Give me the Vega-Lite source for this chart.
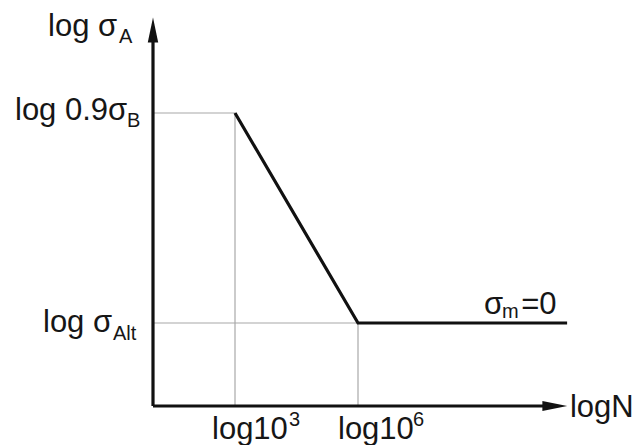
{
  "$schema": "https://vega.github.io/schema/vega-lite/v6.json",
  "width": 635,
  "height": 445,
  "autosize": {"type": "fit", "contains": "padding"},
  "padding": 0,
  "background": "white",
  "config": {"view": {"stroke": null}},
  "datasets": {
    "guides": [
      {"x": 1, "y": 2.93, "x2": 3, "y2": 2.93},
      {"x": 3, "y": 0, "x2": 3, "y2": 2.93},
      {"x": 1, "y": 0.83, "x2": 6, "y2": 0.83},
      {"x": 6, "y": 0, "x2": 6, "y2": 0.83}
    ],
    "axes": [
      {"x": 1, "y": 0, "x2": 1, "y2": 3.66},
      {"x": 1, "y": 0, "x2": 10.6, "y2": 0}
    ],
    "curve": [
      {"n": 3, "s": 2.93},
      {"n": 6, "s": 0.83},
      {"n": 11.1, "s": 0.83}
    ],
    "arrows": [
      {"x": 1, "y": 3.76, "dir": "up"},
      {"x": 10.8, "y": 0, "dir": "right"}
    ],
    "labels": [
      {"x": -1.561, "y": 3.70, "t": "log σ"},
      {"x": -2.366, "y": 2.86, "t": "log 0.9σ"},
      {"x": -1.683, "y": 0.74, "t": "log σ"},
      {"x": 2.439, "y": -0.33, "t": "log10"},
      {"x": 5.512, "y": -0.33, "t": "log10"},
      {"x": 9.073, "y": 0.92, "t": "σ"},
      {"x": 9.98, "y": 0.92, "t": "=0"},
      {"x": 11.17, "y": -0.11, "t": "logN"}
    ],
    "subs": [
      {"x": 0.171, "y": 3.63, "t": "A"},
      {"x": 0.366, "y": 2.79, "t": "B"},
      {"x": 0.024, "y": 0.66, "t": "Alt"},
      {"x": 4.32, "y": -0.20, "t": "3"},
      {"x": 7.34, "y": -0.20, "t": "6"},
      {"x": 9.51, "y": 0.88, "t": "m"}
    ]
  },
  "layer": [
    {
      "data": {"name": "guides"},
      "mark": {"type": "rule", "color": "#a8a8a8", "strokeWidth": 1.2},
      "encoding": {
        "x": {"field": "x", "type": "quantitative", "scale": {"domain": [-2.7317, 12.756], "nice": false, "zero": false}, "axis": null},
        "y": {"field": "y", "type": "quantitative", "scale": {"domain": [-0.39, 4.06], "nice": false, "zero": false}, "axis": null},
        "x2": {"field": "x2"},
        "y2": {"field": "y2"}
      }
    },
    {
      "data": {"name": "axes"},
      "mark": {"type": "rule", "color": "#111111", "strokeWidth": 3.2},
      "encoding": {
        "x": {"field": "x", "type": "quantitative"},
        "y": {"field": "y", "type": "quantitative"},
        "x2": {"field": "x2"},
        "y2": {"field": "y2"}
      }
    },
    {
      "data": {"name": "curve"},
      "mark": {"type": "line", "color": "#111111", "strokeWidth": 3.2, "strokeJoin": "miter"},
      "encoding": {
        "x": {"field": "n", "type": "quantitative"},
        "y": {"field": "s", "type": "quantitative"}
      }
    },
    {
      "data": {"name": "arrows"},
      "mark": {"type": "point", "filled": true, "color": "#111111", "opacity": 1, "size": 620},
      "encoding": {
        "x": {"field": "x", "type": "quantitative"},
        "y": {"field": "y", "type": "quantitative"},
        "shape": {"field": "dir", "type": "nominal", "scale": {"domain": ["up", "right"], "range": ["M0,-1L0.42,1L-0.42,1Z", "M1,0L-1,-0.4L-1,0.4Z"]}, "legend": null}
      }
    },
    {
      "data": {"name": "labels"},
      "mark": {"type": "text", "align": "left", "baseline": "alphabetic", "font": "Liberation Sans", "fontSize": 31, "color": "#161616"},
      "encoding": {
        "x": {"field": "x", "type": "quantitative"},
        "y": {"field": "y", "type": "quantitative"},
        "text": {"field": "t"}
      }
    },
    {
      "data": {"name": "subs"},
      "mark": {"type": "text", "align": "left", "baseline": "alphabetic", "font": "Liberation Sans", "fontSize": 20, "color": "#161616"},
      "encoding": {
        "x": {"field": "x", "type": "quantitative"},
        "y": {"field": "y", "type": "quantitative"},
        "text": {"field": "t"}
      }
    }
  ]
}
